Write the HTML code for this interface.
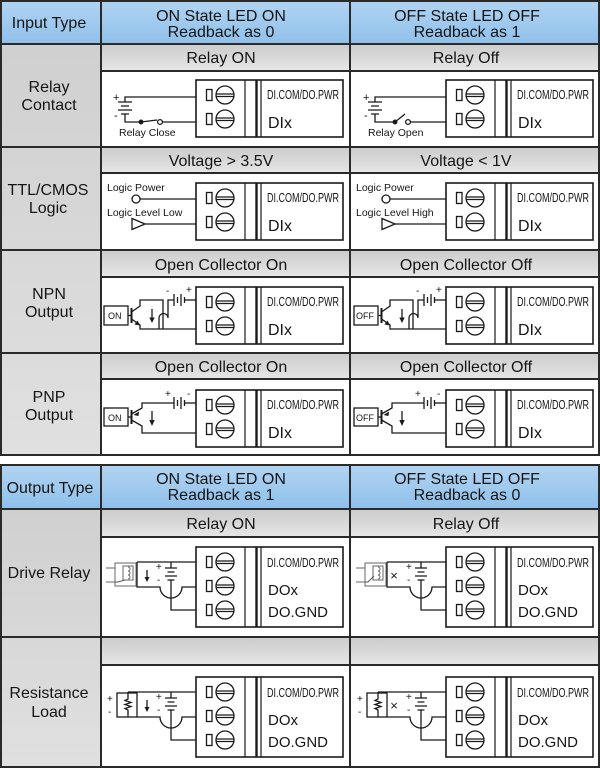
<!DOCTYPE html>
<html><head><meta charset="utf-8"><style>
html,body{margin:0;padding:0;background:#fff;}
svg{display:block;}
text{font-family:"Liberation Sans",sans-serif;fill:#151515;}
.c1{text-anchor:middle;font-size:16px;}
.hd{text-anchor:middle;font-size:16px;}
.sm{font-size:10.5px;}
</style></head><body>
<svg width="600" height="770" viewBox="0 0 600 770" xmlns="http://www.w3.org/2000/svg">
<defs>
<linearGradient id="gb" x1="0" y1="0" x2="0" y2="1"><stop offset="0" stop-color="#b2d4f2"/><stop offset="1" stop-color="#8fc0ea"/></linearGradient>
<linearGradient id="gs" x1="0" y1="0" x2="0" y2="1"><stop offset="0" stop-color="#cbcbcb"/><stop offset="1" stop-color="#e6e6e6"/></linearGradient>
<linearGradient id="gc" x1="0" y1="0" x2="0" y2="1"><stop offset="0" stop-color="#d0d0d0"/><stop offset="1" stop-color="#e0e0e0"/></linearGradient>
<g id="ib" fill="none" stroke="#1a1a1a" stroke-width="1.3">
 <rect x="0" y="0" width="147" height="57" fill="#fff" stroke-width="1.6"/>
 <path d="M49,0V57 M65,0V57" stroke-width="1.2"/>
 <path d="M60.5,0V57" stroke-width="2.4"/>
 <rect x="10.5" y="9.5" width="5.5" height="11"/>
 <circle cx="29" cy="15" r="9"/>
 <path d="M20,14H38 M20,16.5H38"/>
 <rect x="10.5" y="33.5" width="5.5" height="11"/>
 <circle cx="29" cy="39" r="9"/>
 <path d="M20,38H38 M20,40.5H38"/>
</g>
<g id="ob" fill="none" stroke="#1a1a1a" stroke-width="1.3">
 <rect x="0" y="0" width="147" height="80" fill="#fff" stroke-width="1.6"/>
 <path d="M49,0V80 M65,0V80" stroke-width="1.2"/>
 <path d="M60.5,0V80" stroke-width="2.4"/>
 <rect x="10.5" y="9.5" width="5.5" height="11"/>
 <circle cx="29" cy="15" r="9"/>
 <path d="M20,14H38 M20,16.5H38"/>
 <rect x="10.5" y="33.5" width="5.5" height="11"/>
 <circle cx="29" cy="39" r="9"/>
 <path d="M20,38H38 M20,40.5H38"/>
 <rect x="10.5" y="57.5" width="5.5" height="11"/>
 <circle cx="29" cy="63" r="9"/>
 <path d="M20,62H38 M20,64.5H38"/>
</g>
</defs>

<!-- ============ INPUT TABLE BACKGROUNDS ============ -->
<rect x="0" y="0" width="600" height="44" fill="url(#gb)"/>
<rect x="0" y="44" width="101" height="412" fill="url(#gc)"/>
<rect x="101" y="44" width="499" height="27" fill="url(#gs)"/>
<rect x="101" y="147" width="499" height="26" fill="url(#gs)"/>
<rect x="101" y="250" width="499" height="27" fill="url(#gs)"/>
<rect x="101" y="353" width="499" height="26" fill="url(#gs)"/>

<!-- ============ OUTPUT TABLE BACKGROUNDS ============ -->
<rect x="0" y="465" width="600" height="44" fill="url(#gb)"/>
<rect x="0" y="509" width="101" height="259" fill="url(#gc)"/>
<rect x="101" y="509" width="499" height="28" fill="url(#gs)"/>
<rect x="101" y="637" width="499" height="28" fill="url(#gs)"/>

<!-- ============ GRID LINES ============ -->
<g fill="none" stroke="#2a2a2a" stroke-width="2">
 <rect x="1" y="1" width="598" height="454"/>
 <path d="M0,44H600 M0,147H600 M0,250H600 M0,353H600"/>
 <path d="M101,71H600 M101,173H600 M101,277H600 M101,379H600"/>
 <path d="M101,0V456 M350,0V456"/>
 <rect x="1" y="465" width="598" height="302"/>
 <path d="M0,509H600 M0,637H600"/>
 <path d="M101,537H600 M101,665H600"/>
 <path d="M101,464V768 M350,464V768"/>
</g>

<!-- ============ HEADER TEXT ============ -->
<text class="hd" x="49" y="28">Input Type</text>
<text class="hd" x="221" y="21">ON State LED ON</text>
<text class="hd" x="221" y="37">Readback as 0</text>
<text class="hd" x="467" y="21">OFF State LED OFF</text>
<text class="hd" x="467" y="37">Readback as 1</text>

<text class="c1" x="49" y="92">Relay</text>
<text class="c1" x="49" y="110">Contact</text>
<text class="c1" x="48" y="195">TTL/CMOS</text>
<text class="c1" x="48" y="213">Logic</text>
<text class="c1" x="49" y="299">NPN</text>
<text class="c1" x="49" y="317">Output</text>
<text class="c1" x="49" y="402">PNP</text>
<text class="c1" x="49" y="420">Output</text>

<text class="hd" x="221" y="63">Relay ON</text>
<text class="hd" x="466" y="63">Relay Off</text>
<text class="hd" x="221" y="166">Voltage &gt; 3.5V</text>
<text class="hd" x="466" y="166">Voltage &lt; 1V</text>
<text class="hd" x="221" y="270">Open Collector On</text>
<text class="hd" x="466" y="270">Open Collector Off</text>
<text class="hd" x="221" y="372">Open Collector On</text>
<text class="hd" x="466" y="372">Open Collector Off</text>

<text class="hd" x="50" y="493">Output Type</text>
<text class="hd" x="221" y="484">ON State LED ON</text>
<text class="hd" x="221" y="500">Readback as 1</text>
<text class="hd" x="467" y="484">OFF State LED OFF</text>
<text class="hd" x="467" y="500">Readback as 0</text>
<text class="c1" x="49" y="578">Drive Relay</text>
<text class="c1" x="49" y="698">Resistance</text>
<text class="c1" x="49" y="717">Load</text>
<text class="hd" x="221" y="529">Relay ON</text>
<text class="hd" x="466" y="529">Relay Off</text>

<!-- ============ TERMINAL BLOCKS ============ -->
<use href="#ib" x="196" y="80"/><use href="#ib" x="446" y="80"/>
<use href="#ib" x="196" y="183"/><use href="#ib" x="446" y="183"/>
<use href="#ib" x="196" y="287"/><use href="#ib" x="446" y="287"/>
<use href="#ib" x="196" y="390"/><use href="#ib" x="446" y="390"/>
<use href="#ob" x="196" y="547"/><use href="#ob" x="446" y="547"/>
<use href="#ob" x="196" y="677"/><use href="#ob" x="446" y="677"/>

<!-- block labels -->
<g font-size="13">
 <text x="267" y="99" textLength="72" lengthAdjust="spacingAndGlyphs">DI.COM/DO.PWR</text>
 <text x="517" y="99" textLength="72" lengthAdjust="spacingAndGlyphs">DI.COM/DO.PWR</text>
 <text x="267" y="202" textLength="72" lengthAdjust="spacingAndGlyphs">DI.COM/DO.PWR</text>
 <text x="517" y="202" textLength="72" lengthAdjust="spacingAndGlyphs">DI.COM/DO.PWR</text>
 <text x="267" y="306" textLength="72" lengthAdjust="spacingAndGlyphs">DI.COM/DO.PWR</text>
 <text x="517" y="306" textLength="72" lengthAdjust="spacingAndGlyphs">DI.COM/DO.PWR</text>
 <text x="267" y="409" textLength="72" lengthAdjust="spacingAndGlyphs">DI.COM/DO.PWR</text>
 <text x="517" y="409" textLength="72" lengthAdjust="spacingAndGlyphs">DI.COM/DO.PWR</text>
 <text x="267" y="567" textLength="72" lengthAdjust="spacingAndGlyphs">DI.COM/DO.PWR</text>
 <text x="517" y="567" textLength="72" lengthAdjust="spacingAndGlyphs">DI.COM/DO.PWR</text>
 <text x="267" y="697" textLength="72" lengthAdjust="spacingAndGlyphs">DI.COM/DO.PWR</text>
 <text x="517" y="697" textLength="72" lengthAdjust="spacingAndGlyphs">DI.COM/DO.PWR</text>
</g>
<g font-size="16">
 <text x="268" y="128">DIx</text><text x="518" y="128">DIx</text>
 <text x="268" y="231">DIx</text><text x="518" y="231">DIx</text>
 <text x="268" y="335">DIx</text><text x="518" y="335">DIx</text>
 <text x="268" y="438">DIx</text><text x="518" y="438">DIx</text>
</g>
<g font-size="15">
 <text x="268" y="595">DOx</text><text x="518" y="595">DOx</text>
 <text x="268" y="617">DO.GND</text><text x="518" y="617">DO.GND</text>
 <text x="268" y="725">DOx</text><text x="518" y="725">DOx</text>
 <text x="268" y="747">DO.GND</text><text x="518" y="747">DO.GND</text>
</g>

<!-- ============ RELAY CONTACT ============ -->
<g fill="none" stroke="#1a1a1a" stroke-width="1.3">
 <!-- col2 -->
 <path d="M196,97H125V102 M125,114V122H140"/>
 <path d="M118,102H132 M121,106H129 M118,110H132 M121,114H129"/>
 <circle cx="141" cy="122" r="1.8" fill="#1a1a1a"/>
 <path d="M141,122L157,120"/>
 <circle cx="160" cy="122" r="2.4" fill="#fff"/>
 <path d="M162.5,122H196"/>
 <!-- col3 -->
 <path d="M446,97H375V102 M375,114V122H394"/>
 <path d="M368,102H382 M371,106H379 M368,110H382 M371,114H379"/>
 <circle cx="395" cy="122" r="1.8" fill="#1a1a1a"/>
 <path d="M395,122L405,114"/>
 <circle cx="408" cy="122" r="2.4" fill="#fff"/>
 <path d="M410.5,122H446"/>
</g>
<g font-size="11">
 <text x="113" y="101">+</text><text x="114" y="119">-</text>
 <text x="363" y="101">+</text><text x="364" y="119">-</text>
</g>
<text class="sm" x="119" y="136">Relay Close</text>
<text class="sm" x="368" y="136">Relay Open</text>

<!-- ============ TTL ============ -->
<g fill="none" stroke="#1a1a1a" stroke-width="1.3">
 <circle cx="136" cy="199" r="4"/>
 <path d="M140,199H196"/>
 <path d="M132,218.5L145,224L132,229.5Z"/>
 <path d="M145,224H196"/>
 <circle cx="386" cy="199" r="4"/>
 <path d="M390,199H446"/>
 <path d="M382,218.5L395,224L382,229.5Z"/>
 <path d="M395,224H446"/>
</g>
<text class="sm" x="107" y="191">Logic Power</text>
<text class="sm" x="107" y="216">Logic Level Low</text>
<text class="sm" x="356" y="191">Logic Power</text>
<text class="sm" x="356" y="216">Logic Level High</text>

<!-- ============ NPN ============ -->
<g id="npn" fill="none" stroke="#1a1a1a" stroke-width="1.3">
 <rect x="104" y="306" width="24" height="19"/>
 <path d="M128,315.5H131"/>
 <path d="M131.5,308V323" stroke-width="2"/>
 <path d="M131.5,312L140,306V300H163V329"/>
 <path d="M131.5,319L140,325V329H196"/>
 <polygon points="140,325.5 134.5,324.5 137.5,320.5" fill="#1a1a1a" stroke="none"/>
 <path d="M152,309V319"/>
 <polygon points="149.3,317.5 154.7,317.5 152,323" fill="#1a1a1a" stroke="none"/>
 <path d="M159,329V318A4.5,4.5 0 0 1 168,318V300H174"/>
 <path d="M174,294V306 M177.5,297V303 M181,294V306 M184.5,297V303"/>
 <path d="M184.5,300H196"/>
</g>
<use href="#npn" x="250" y="0"/>
<g font-size="10">
 <text x="166" y="294">-</text><text x="186" y="293">+</text>
 <text x="416" y="294">-</text><text x="436" y="293">+</text>
</g>
<text x="108" y="319" font-size="9">ON</text>
<text x="356" y="319" font-size="9">OFF</text>

<!-- ============ PNP ============ -->
<g id="pnp" fill="none" stroke="#1a1a1a" stroke-width="1.3">
 <rect x="104" y="408" width="24" height="18"/>
 <path d="M128,417H131"/>
 <path d="M131.5,410V424" stroke-width="2"/>
 <path d="M131.5,414L142,408V403H174"/>
 <path d="M131.5,420L142,426V433H196"/>
 <polygon points="133.5,415 139,411.5 138.5,416" fill="#1a1a1a" stroke="none"/>
 <path d="M152,411V421"/>
 <polygon points="149.3,420 154.7,420 152,426" fill="#1a1a1a" stroke="none"/>
 <path d="M174,397V409 M177.5,400V406 M181,397V409 M184.5,400V406"/>
 <path d="M184.5,403H196"/>
</g>
<use href="#pnp" x="250" y="0"/>
<g font-size="10">
 <text x="165" y="397">+</text><text x="187" y="397">-</text>
 <text x="415" y="397">+</text><text x="437" y="397">-</text>
</g>
<text x="108" y="421" font-size="9">ON</text>
<text x="356" y="421" font-size="9">OFF</text>

<!-- ============ DRIVE RELAY ============ -->
<g id="drv" fill="none" stroke="#1a1a1a" stroke-width="1.3">
 <path d="M137,562H196 M137,562V587H160A11,11 0 0 0 182,587H196 M171,562V568 M171,580V610H196"/>
 <path d="M165,568H177 M167.5,572H174.5 M165,576H177 M167.5,580H174.5"/>
 <g stroke="#666" stroke-width="1">
  <rect x="115" y="563" width="21" height="23"/>
  <path d="M106,568H115 M106,582H115"/>
  <rect x="123" y="566" width="10" height="14"/>
  <path d="M128,567a2,2 0 1 1 0,4a2,2 0 1 1 0,4a2,2 0 1 1 0,4"/>
 </g>
</g>
<use href="#drv" x="250" y="0"/>
<g stroke="#555" stroke-width="1" fill="none">
 <path d="M115,582H118L125,580"/>
 <path d="M365,582H368L374,576"/>
</g>
<g fill="none" stroke="#1a1a1a" stroke-width="1.3">
 <path d="M147,570V578"/>
</g>
<polygon points="144.5,577 149.5,577 147,582" fill="#1a1a1a"/>
<text x="394" y="580" font-size="13" text-anchor="middle">×</text>
<g font-size="10">
 <text x="156" y="570">+</text><text x="157" y="583">-</text>
 <text x="406" y="570">+</text><text x="407" y="583">-</text>
</g>

<!-- ============ RESISTANCE LOAD ============ -->
<g id="res" fill="none" stroke="#1a1a1a" stroke-width="1.3">
 <rect x="117" y="693" width="20" height="24"/>
 <path d="M128,692H196 M128,692V699l-3,1.5l6,2l-6,2l6,2l-6,2l3,1.5V717 M137,717H160A11,11 0 0 0 182,717H196"/>
 <path d="M171,692V698 M171,710V740H196"/>
 <path d="M165,698H177 M167.5,702H174.5 M165,706H177 M167.5,710H174.5"/>
</g>
<use href="#res" x="250" y="0"/>
<path d="M147,700V708" stroke="#1a1a1a" stroke-width="1.3"/>
<polygon points="144.5,707 149.5,707 147,712" fill="#1a1a1a"/>
<text x="394" y="710" font-size="13" text-anchor="middle">×</text>
<g font-size="10">
 <text x="107" y="702">+</text><text x="108" y="715">-</text>
 <text x="357" y="702">+</text><text x="358" y="715">-</text>
 <text x="156" y="700">+</text><text x="157" y="713">-</text>
 <text x="406" y="700">+</text><text x="407" y="713">-</text>
</g>
</svg>
</body></html>
